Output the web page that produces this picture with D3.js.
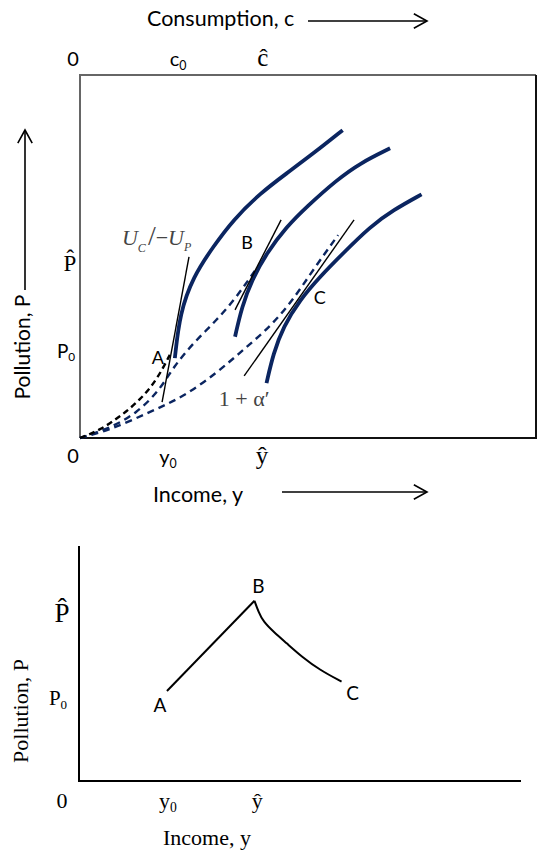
<!DOCTYPE html>
<html>
<head>
<meta charset="utf-8">
<script src="https://cdn.jsdelivr.net/npm/d3@7"></script>
<style>
  body { margin: 0; background: #fff; }
  svg { display: block; }
</style>
</head>
<body>
<div id="chart"></div>
<script>
// all values on a 0-100 scale for both axes

// top panel: indifference curves (solid)
const indiff1 = [[20.8,22.0],[21.9,34.4],[24.8,44.4],[29.2,52.7],[33.6,60.1],[39.5,67.4],[45.3,72.9],[51.2,78.4],[57.6,84.8]];
const indiff2 = [[34.0,27.9],[35.5,36.2],[37.7,43.5],[40.9,50.9],[45.3,58.2],[49.7,63.7],[56.3,71.1],[61.4,75.7],[68.0,79.8]];
const indiff3 = [[40.9,15.1],[42.4,23.3],[44.6,30.7],[48.2,38.0],[52.6,44.4],[57.7,50.9],[63.6,58.2],[68.7,62.8],[74.9,67.1]];

// top panel: production frontiers (dashed)
const frontA = [[0,0],[4.4,2.2],[8.8,5.9],[13.2,10.5],[16.8,15.9],[19.7,22.9]];
const frontB = [[0,0],[6.6,2.7],[12.4,6.8],[17.5,13.2],[20.5,19.6],[24.8,26.1],[30.0,32.5],[34.4,38.9],[38.7,46.7]];
const frontC = [[0,0],[6.6,2.2],[15.4,7.2],[22.6,11.3],[30.0,17.9],[35.7,24.2],[41.7,30.6],[46.7,38.0],[51.1,46.3],[56.6,55.9]];

// tangent lines
const tangentA = [[18.0,9.9],[23.9,49.9]];
const tangentB = [[34.0,35.3],[44.1,60.1]];
const tangentC = [[36.0,17.1],[60.1,60.1]];

// equilibrium points (top panel)
const eqPoints = [
  { name: "A", x: 20.8, y: 22.0 },
  { name: "B", x: 39.5, y: 48.5 },
  { name: "C", x: 48.2, y: 38.0 }
];

// tick labels top panel
const topYTicks = [{ v: 48.5, t: "P\u0302", serif: true }, { v: 23.7, t: "P", sub: "0" }];
const topXTicksTop = [{ v: 21.5, t: "c", sub: "0" }, { v: 40.1, t: "ĉ", serif: true }];
const topXTicksBot = [{ v: 19.3, t: "y", sub: "0" }, { v: 39.9, t: "ŷ", serif: true }];

// bottom panel: pollution path
const pathAB = [[19.9,38.3],[39.7,76.7]];
const pathBC = [[39.7,76.7],[40.6,72.0],[41.7,67.8],[44.0,63.5],[47.0,58.6],[50.4,52.9],[54.5,47.2],[59.4,42.3]];
const botYTicks = [{ v: 71.9, t: "P\u0302", big: true }, { v: 35.3, t: "P", sub: "0" }];
const botXTicks = [{ v: 20.1, t: "y", sub: "0" }, { v: 40.3, t: "ŷ" }];

const SANS = "Lato, 'Open Sans', sans-serif";
const SERIF = "'Liberation Serif', 'DejaVu Serif', serif";
const NAVY = "#0b2560";

const svg = d3.select("#chart").append("svg")
  .attr("width", 538).attr("height", 854);

// arrows with open chevron heads
function arrow(x1, y1, x2, y2) {
  const g = svg.append("g").attr("stroke", "#000").attr("stroke-width", 1.6).attr("fill", "none");
  g.append("line").attr("x1", x1).attr("y1", y1).attr("x2", x2).attr("y2", y2);
  const a = Math.atan2(y2 - y1, x2 - x1), L = 15, W = 0.5;
  g.append("path").attr("d",
    `M${x2 - L * Math.cos(a - W)},${y2 - L * Math.sin(a - W)}L${x2},${y2}L${x2 - L * Math.cos(a + W)},${y2 - L * Math.sin(a + W)}`);
}

// ---------- top panel ----------
const xT = d3.scaleLinear().domain([0, 100]).range([80, 536]);
const yT = d3.scaleLinear().domain([0, 100]).range([438, 75]);
const lineT = d3.line().x(d => xT(d[0])).y(d => yT(d[1])).curve(d3.curveBasis);
const straightT = d3.line().x(d => xT(d[0])).y(d => yT(d[1]));

// frame: grey top/left, dark right/bottom
svg.append("path").attr("d", `M${xT(0)},${yT(0)}V${yT(100)}H${xT(100)}`)
  .attr("fill", "none").attr("stroke", "#666").attr("stroke-width", 2);
svg.append("path").attr("d", `M${xT(100)},${yT(100)}V${yT(0)}H${xT(0)}`)
  .attr("fill", "none").attr("stroke", "#111").attr("stroke-width", 2);

svg.selectAll(".front").data([frontB, frontC]).enter().append("path")
  .attr("d", lineT).attr("fill", "none").attr("stroke", NAVY)
  .attr("stroke-width", 2.4).attr("stroke-dasharray", "7,5");
svg.append("path").attr("d", lineT(frontA)).attr("fill", "none").attr("stroke", "#000")
  .attr("stroke-width", 2.4).attr("stroke-dasharray", "6,4");

svg.selectAll(".indiff").data([indiff1, indiff2, indiff3]).enter().append("path")
  .attr("d", lineT).attr("fill", "none").attr("stroke", NAVY).attr("stroke-width", 3.8)
  .attr("stroke-linecap", "butt");

svg.selectAll(".tan").data([tangentA, tangentB, tangentC]).enter().append("path")
  .attr("d", straightT).attr("stroke", "#000").attr("stroke-width", 1.4).attr("fill", "none");

const topOff = { A: [-17, 6], B: [-13, -13], C: [20, 4] };
svg.selectAll(".ptT").data(eqPoints).enter().append("text")
  .attr("x", d => xT(d.x) + topOff[d.name][0]).attr("y", d => yT(d.y) + topOff[d.name][1])
  .attr("text-anchor", "middle").attr("font-family", SANS).attr("font-size", 18).text(d => d.name);

// U_C / -U_P label near tangent A
const ux = xT(tangentA[1][0]) - 67, uy = yT(tangentA[1][1]) - 12;
const ut = svg.append("text").attr("x", ux).attr("y", uy).attr("font-family", SERIF)
  .attr("font-size", 22).attr("fill", "#444");
ut.append("tspan").attr("font-style", "italic").text("U");
ut.append("tspan").attr("font-style", "italic").attr("font-size", 12).attr("dy", 7).text("C");
ut.append("tspan").attr("dy", -7).attr("font-size", 28).attr("dx", 2).text("/");
ut.append("tspan").text("−");
ut.append("tspan").attr("font-style", "italic").text("U");
ut.append("tspan").attr("font-style", "italic").attr("font-size", 12).attr("dy", 6).text("P");

// 1 + alpha' label under tangent C
svg.append("text").attr("x", xT(tangentC[0][0])).attr("y", yT(tangentC[0][1]) + 30)
  .attr("text-anchor", "middle").attr("font-family", SERIF).attr("font-size", 22).attr("fill", "#444")
  .text("1 + α′");

// tick label helper
function tickLabel(x, y, d, font, size) {
  const t = svg.append("text").attr("x", x).attr("y", y).attr("font-family", d.serif ? SERIF : font)
    .attr("font-size", size).attr("text-anchor", "middle");
  t.append("tspan").text(d.t);
  if (d.sub) t.append("tspan").attr("font-size", size * 0.62).attr("dy", size * 0.18).text(d.sub);
  return t;
}

// top axis labels
svg.append("text").attr("x", xT(0) - 7).attr("y", 66).attr("text-anchor", "middle")
  .attr("font-family", SANS).attr("font-size", 20).text("0");
topXTicksTop.forEach(d => tickLabel(xT(d.v), 66, d, SANS, d.serif ? 25 : 20));
svg.append("text").attr("x", xT(0) - 7).attr("y", 463).attr("text-anchor", "middle")
  .attr("font-family", SANS).attr("font-size", 20).text("0");
topXTicksBot.forEach(d => tickLabel(xT(d.v), 464, d, SANS, d.serif ? 25 : 20));
topYTicks.forEach(d => d.serif
  ? tickLabel(70, yT(d.v) + 9, d, SERIF, 23)
  : tickLabel(66, yT(d.v) + 6, d, SANS, 19));

svg.append("text").attr("x", 147).attr("y", 26).attr("font-family", SANS).attr("font-size", 21.5)
  .text("Consumption, c");
arrow(308, 21, 427, 21);
svg.append("text").attr("x", 153).attr("y", 502).attr("font-family", SANS).attr("font-size", 21.5)
  .text("Income, y");
arrow(282, 492, 427, 492);
svg.append("text").attr("transform", "translate(30,347) rotate(-90)").attr("text-anchor", "middle")
  .attr("font-family", SANS).attr("font-size", 21).text("Pollution, P");
arrow(25, 290, 25, 130);

// ---------- bottom panel ----------
const xB = d3.scaleLinear().domain([0, 100]).range([79, 521]);
const yB = d3.scaleLinear().domain([0, 100]).range([781, 546]);
const lineB = d3.line().x(d => xB(d[0])).y(d => yB(d[1]));

svg.append("path").attr("d", `M${xB(0)},${yB(100)}V${yB(0)}H${xB(100)}`)
  .attr("fill", "none").attr("stroke", "#000").attr("stroke-width", 2);

svg.append("path").attr("d", lineB(pathAB)).attr("fill", "none").attr("stroke", "#000").attr("stroke-width", 2);
svg.append("path").attr("d", lineB.curve(d3.curveBasis)(pathBC))
  .attr("fill", "none").attr("stroke", "#000").attr("stroke-width", 2);

const botPts = [
  { name: "A", p: pathAB[0], off: [-7, 21] },
  { name: "B", p: pathBC[0], off: [4, -8] },
  { name: "C", p: pathBC[pathBC.length - 1], off: [11, 18] }
];
svg.selectAll(".ptB").data(botPts).enter().append("text")
  .attr("x", d => xB(d.p[0]) + d.off[0]).attr("y", d => yB(d.p[1]) + d.off[1])
  .attr("text-anchor", "middle").attr("font-family", SANS).attr("font-size", 19).text(d => d.name);

svg.append("text").attr("x", 62).attr("y", 808).attr("text-anchor", "middle")
  .attr("font-family", SERIF).attr("font-size", 22).text("0");
botXTicks.forEach(d => tickLabel(xB(d.v), 808, d, SERIF, 22));
botYTicks.forEach(d => d.big
  ? tickLabel(62, yB(d.v) + 10, d, SERIF, 27)
  : tickLabel(58, yB(d.v) + 7, d, SERIF, 21));

svg.append("text").attr("x", 207).attr("y", 845).attr("text-anchor", "middle")
  .attr("font-family", SERIF).attr("font-size", 22).text("Income, y");
svg.append("text").attr("transform", "translate(28,711) rotate(-90)").attr("text-anchor", "middle")
  .attr("font-family", SERIF).attr("font-size", 22).text("Pollution, P");
</script>
</body>
</html>
